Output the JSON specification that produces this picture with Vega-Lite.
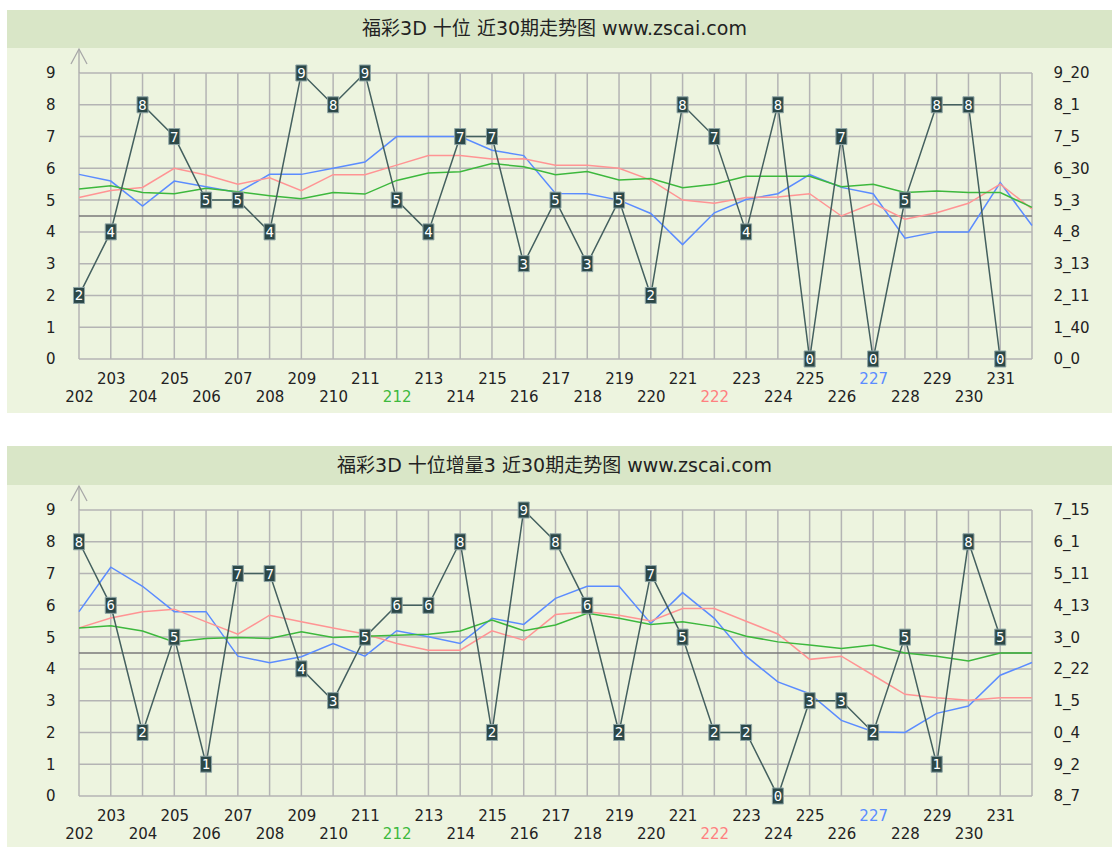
{
  "$schema": "https://vega.github.io/schema/vega-lite/v6.json",
  "background": "white",
  "padding": {"left": 7, "top": 10, "right": 0, "bottom": 0},
  "spacing": 0,
  "bounds": "flush",
  "datasets": {
    "d1": [
      {"p": 202, "n": 2, "b": 5.81, "r": 5.08, "g": 5.35},
      {"p": 203, "n": 4, "b": 5.6, "r": 5.3, "g": 5.45},
      {"p": 204, "n": 8, "b": 4.81, "r": 5.4, "g": 5.24},
      {"p": 205, "n": 7, "b": 5.6, "r": 6.0, "g": 5.2},
      {"p": 206, "n": 5, "b": 5.42, "r": 5.79, "g": 5.37},
      {"p": 207, "n": 5, "b": 5.24, "r": 5.5, "g": 5.26},
      {"p": 208, "n": 4, "b": 5.81, "r": 5.7, "g": 5.14},
      {"p": 209, "n": 9, "b": 5.81, "r": 5.3, "g": 5.04},
      {"p": 210, "n": 8, "b": 6.0, "r": 5.8, "g": 5.24},
      {"p": 211, "n": 9, "b": 6.2, "r": 5.8, "g": 5.19},
      {"p": 212, "n": 5, "b": 7.0, "r": 6.1, "g": 5.62},
      {"p": 213, "n": 4, "b": 7.0, "r": 6.4, "g": 5.85},
      {"p": 214, "n": 7, "b": 7.0, "r": 6.4, "g": 5.89},
      {"p": 215, "n": 7, "b": 6.57, "r": 6.29, "g": 6.15},
      {"p": 216, "n": 3, "b": 6.4, "r": 6.3, "g": 6.05},
      {"p": 217, "n": 5, "b": 5.21, "r": 6.1, "g": 5.8},
      {"p": 218, "n": 3, "b": 5.2, "r": 6.1, "g": 5.9},
      {"p": 219, "n": 5, "b": 5.0, "r": 6.0, "g": 5.63},
      {"p": 220, "n": 2, "b": 4.58, "r": 5.63, "g": 5.68},
      {"p": 221, "n": 8, "b": 3.6, "r": 5.0, "g": 5.39},
      {"p": 222, "n": 7, "b": 4.6, "r": 4.9, "g": 5.5},
      {"p": 223, "n": 4, "b": 5.02, "r": 5.08, "g": 5.75},
      {"p": 224, "n": 8, "b": 5.2, "r": 5.1, "g": 5.75},
      {"p": 225, "n": 0, "b": 5.8, "r": 5.2, "g": 5.75},
      {"p": 226, "n": 7, "b": 5.4, "r": 4.5, "g": 5.42},
      {"p": 227, "n": 0, "b": 5.2, "r": 4.9, "g": 5.5},
      {"p": 228, "n": 5, "b": 3.8, "r": 4.4, "g": 5.24},
      {"p": 229, "n": 8, "b": 4.0, "r": 4.6, "g": 5.29},
      {"p": 230, "n": 8, "b": 4.0, "r": 4.9, "g": 5.24},
      {"p": 231, "n": 0, "b": 5.55, "r": 5.5, "g": 5.24},
      {"p": 232, "n": null, "b": 4.2, "r": 4.72, "g": 4.77}
    ],
    "d2": [
      {"p": 202, "n": 8, "b": 5.8, "r": 5.29, "g": 5.29},
      {"p": 203, "n": 6, "b": 7.2, "r": 5.6, "g": 5.36},
      {"p": 204, "n": 2, "b": 6.6, "r": 5.8, "g": 5.19},
      {"p": 205, "n": 5, "b": 5.8, "r": 5.88, "g": 4.85},
      {"p": 206, "n": 1, "b": 5.8, "r": 5.48, "g": 4.96},
      {"p": 207, "n": 7, "b": 4.4, "r": 5.09, "g": 4.99},
      {"p": 208, "n": 7, "b": 4.19, "r": 5.69, "g": 4.96},
      {"p": 209, "n": 4, "b": 4.38, "r": 5.48, "g": 5.17},
      {"p": 210, "n": 3, "b": 4.8, "r": 5.29, "g": 4.99},
      {"p": 211, "n": 5, "b": 4.4, "r": 5.1, "g": 5.03},
      {"p": 212, "n": 6, "b": 5.2, "r": 4.8, "g": 5.06},
      {"p": 213, "n": 6, "b": 5.01, "r": 4.59, "g": 5.09},
      {"p": 214, "n": 8, "b": 4.8, "r": 4.59, "g": 5.19},
      {"p": 215, "n": 2, "b": 5.59, "r": 5.2, "g": 5.54},
      {"p": 216, "n": 9, "b": 5.4, "r": 4.9, "g": 5.2},
      {"p": 217, "n": 8, "b": 6.22, "r": 5.71, "g": 5.38},
      {"p": 218, "n": 6, "b": 6.6, "r": 5.8, "g": 5.75},
      {"p": 219, "n": 2, "b": 6.6, "r": 5.69, "g": 5.59},
      {"p": 220, "n": 7, "b": 5.43, "r": 5.51, "g": 5.4},
      {"p": 221, "n": 5, "b": 6.4, "r": 5.9, "g": 5.48},
      {"p": 222, "n": 2, "b": 5.59, "r": 5.9, "g": 5.33},
      {"p": 223, "n": 2, "b": 4.4, "r": 5.5, "g": 5.03},
      {"p": 224, "n": 0, "b": 3.59, "r": 5.1, "g": 4.85},
      {"p": 225, "n": 3, "b": 3.22, "r": 4.3, "g": 4.75},
      {"p": 226, "n": 3, "b": 2.38, "r": 4.4, "g": 4.64},
      {"p": 227, "n": 2, "b": 2.02, "r": 3.8, "g": 4.75},
      {"p": 228, "n": 5, "b": 2.0, "r": 3.2, "g": 4.5},
      {"p": 229, "n": 1, "b": 2.6, "r": 3.09, "g": 4.4},
      {"p": 230, "n": 8, "b": 2.83, "r": 3.01, "g": 4.25},
      {"p": 231, "n": 5, "b": 3.8, "r": 3.09, "g": 4.5},
      {"p": 232, "n": null, "b": 4.2, "r": 3.09, "g": 4.5}
    ],
    "lv": [{"v": 0}, {"v": 1}, {"v": 2}, {"v": 3}, {"v": 4}, {"v": 5}, {"v": 6}, {"v": 7}, {"v": 8}, {"v": 9}]
  },
  "vconcat": [
    {
      "width": 1105, "height": 38,
      "view": {"fill": "#D9E6C7", "stroke": null},
      "data": {"values": [{"t": "福彩3D 十位 近30期走势图 www.zscai.com"}]},
      "mark": {"type": "text", "font": "DejaVu Sans, Noto Sans CJK SC", "fontSize": 19, "color": "#222222", "dx": -5},
      "encoding": {"text": {"field": "t"}}
    },
    {
      "width": 1105, "height": 365,
      "view": {"fill": "#EDF4DF", "stroke": null},
      "resolve": {"axis": {"x": "independent", "y": "independent"}},
      "layer": [
        {
          "data": {"name": "d1"},
          "mark": {"type": "rule", "color": "#B4B4B4", "strokeWidth": 1.5},
          "encoding": {
            "x": {"field": "p", "type": "quantitative", "scale": {"domain": [199.7335, 234.5184], "nice": false, "zero": false},
              "axis": {"orient": "bottom", "values": [202, 204, 206, 208, 210, 212, 214, 216, 218, 220, 222, 224, 226, 228, 230], "format": "d", "offset": -17, "domain": false, "ticks": false, "tickSize": 0, "grid": false, "labelPadding": 0, "labelBaseline": "middle", "labelOverlap": false, "labelFlush": false, "labelBound": false, "title": null, "labelFont": "DejaVu Sans", "labelFontSize": 15,
                "labelColor": {"condition": [{"test": "datum.value === 212", "value": "#3DB93D"}, {"test": "datum.value === 222", "value": "#FF8080"}, {"test": "datum.value === 227", "value": "#5B8CFF"}], "value": "#222222"}}},
            "y": {"datum": 0, "type": "quantitative", "scale": {"domain": [-1.6993, 9.7867], "nice": false, "zero": false},
              "axis": {"orient": "left", "values": [0, 1, 2, 3, 4, 5, 6, 7, 8, 9], "offset": -48, "domain": false, "ticks": false, "tickSize": 0, "grid": false, "labelPadding": 0, "labelAlign": "right", "labelBaseline": "middle", "labelFont": "DejaVu Sans", "labelFontSize": 15, "labelColor": "#222222", "title": null}},
            "y2": {"datum": 9}
          }
        },
        {
          "data": {"name": "lv"},
          "mark": {"type": "rule", "color": "#B4B4B4", "strokeWidth": 1.5},
          "encoding": {
            "y": {"field": "v", "type": "quantitative", "scale": {"domain": [-1.6993, 9.7867], "nice": false, "zero": false},
              "axis": {"orient": "right", "values": [0, 1, 2, 3, 4, 5, 6, 7, 8, 9], "offset": -59, "domain": false, "ticks": false, "tickSize": 0, "grid": false, "labelPadding": 0, "labelAlign": "left", "labelBaseline": "middle", "labelFont": "DejaVu Sans", "labelFontSize": 15, "labelColor": "#222222", "title": null,
                "labelExpr": "['0_0','1_40','2_11','3_13','4_8','5_3','6_30','7_5','8_1','9_20'][datum.value]"}},
            "x": {"datum": 202, "type": "quantitative", "scale": {"domain": [199.7335, 234.5184], "nice": false, "zero": false},
              "axis": {"orient": "bottom", "values": [203, 205, 207, 209, 211, 213, 215, 217, 219, 221, 223, 225, 227, 229, 231], "format": "d", "offset": -35, "domain": false, "ticks": false, "tickSize": 0, "grid": false, "labelPadding": 0, "labelBaseline": "middle", "labelOverlap": false, "labelFlush": false, "labelBound": false, "title": null, "labelFont": "DejaVu Sans", "labelFontSize": 15,
                "labelColor": {"condition": [{"test": "datum.value === 212", "value": "#3DB93D"}, {"test": "datum.value === 222", "value": "#FF8080"}, {"test": "datum.value === 227", "value": "#5B8CFF"}], "value": "#222222"}}},
            "x2": {"datum": 232}
          }
        },
        {
          "data": {"values": [{}]},
          "mark": {"type": "rule", "color": "#7A7A7A", "strokeWidth": 1.3},
          "encoding": {
            "y": {"datum": 4.5, "type": "quantitative", "axis": null},
            "x": {"datum": 202, "type": "quantitative", "axis": null},
            "x2": {"datum": 232}
          }
        },
        {
          "data": {"values": [{}]},
          "mark": {"type": "rule", "color": "#A8A8A8", "strokeWidth": 1.3},
          "encoding": {
            "y": {"datum": 9, "type": "quantitative", "axis": null},
            "y2": {"datum": 9.755},
            "x": {"datum": 202, "type": "quantitative", "axis": null}
          }
        },
        {
          "data": {"values": [{}]},
          "mark": {"type": "point", "shape": "M-1.07,1L0,-1L1.07,1", "size": 225, "filled": false, "stroke": "#A8A8A8", "strokeWidth": 1.3, "opacity": 1},
          "encoding": {
            "y": {"datum": 9.519, "type": "quantitative", "axis": null},
            "x": {"datum": 202, "type": "quantitative", "axis": null}
          }
        },
        {
          "data": {"name": "d1"},
          "mark": {"type": "line", "color": "#5B8CFF", "strokeWidth": 1.5},
          "encoding": {"x": {"field": "p", "type": "quantitative", "axis": null}, "y": {"field": "b", "type": "quantitative", "axis": null}}
        },
        {
          "data": {"name": "d1"},
          "mark": {"type": "line", "color": "#FF9494", "strokeWidth": 1.5},
          "encoding": {"x": {"field": "p", "type": "quantitative", "axis": null}, "y": {"field": "r", "type": "quantitative", "axis": null}}
        },
        {
          "data": {"name": "d1"},
          "mark": {"type": "line", "color": "#3DB83D", "strokeWidth": 1.5},
          "encoding": {"x": {"field": "p", "type": "quantitative", "axis": null}, "y": {"field": "g", "type": "quantitative", "axis": null}}
        },
        {
          "data": {"name": "d1"},
          "mark": {"type": "line", "color": "#44605F", "strokeWidth": 1.5},
          "encoding": {"x": {"field": "p", "type": "quantitative", "axis": null}, "y": {"field": "n", "type": "quantitative", "axis": null}}
        },
        {
          "data": {"name": "d1"},
          "mark": {"type": "point", "shape": "M-0.69,-1H0.69V1H-0.69Z", "size": 256, "filled": true, "fill": "#2C4848", "stroke": "#8FA6A6", "strokeWidth": 1, "opacity": 1},
          "encoding": {"x": {"field": "p", "type": "quantitative", "axis": null}, "y": {"field": "n", "type": "quantitative", "axis": null}}
        },
        {
          "data": {"name": "d1"},
          "mark": {"type": "text", "color": "white", "font": "DejaVu Sans Mono", "fontSize": 14, "baseline": "middle", "align": "center", "dy": 1},
          "encoding": {"x": {"field": "p", "type": "quantitative", "axis": null}, "y": {"field": "n", "type": "quantitative", "axis": null}, "text": {"field": "n", "type": "quantitative", "format": "d"}}
        }
      ]
    },
    {
      "width": 1105, "height": 33,
      "data": {"values": []},
      "mark": "point",
      "view": {"stroke": null}
    },
    {
      "width": 1105, "height": 39,
      "view": {"fill": "#D9E6C7", "stroke": null},
      "data": {"values": [{"t": "福彩3D 十位增量3 近30期走势图 www.zscai.com"}]},
      "mark": {"type": "text", "font": "DejaVu Sans, Noto Sans CJK SC", "fontSize": 19, "color": "#222222", "dx": -5},
      "encoding": {"text": {"field": "t"}}
    },
    {
      "width": 1105, "height": 362,
      "view": {"fill": "#EDF4DF", "stroke": null},
      "resolve": {"axis": {"x": "independent", "y": "independent"}},
      "layer": [
        {
          "data": {"name": "d2"},
          "mark": {"type": "rule", "color": "#B4B4B4", "strokeWidth": 1.5},
          "encoding": {
            "x": {"field": "p", "type": "quantitative", "scale": {"domain": [199.7335, 234.5184], "nice": false, "zero": false},
              "axis": {"orient": "bottom", "values": [202, 204, 206, 208, 210, 212, 214, 216, 218, 220, 222, 224, 226, 228, 230], "format": "d", "offset": -14, "domain": false, "ticks": false, "tickSize": 0, "grid": false, "labelPadding": 0, "labelBaseline": "middle", "labelOverlap": false, "labelFlush": false, "labelBound": false, "title": null, "labelFont": "DejaVu Sans", "labelFontSize": 15,
                "labelColor": {"condition": [{"test": "datum.value === 212", "value": "#3DB93D"}, {"test": "datum.value === 222", "value": "#FF8080"}, {"test": "datum.value === 227", "value": "#5B8CFF"}], "value": "#222222"}}},
            "y": {"datum": 0, "type": "quantitative", "scale": {"domain": [-1.6049, 9.7867], "nice": false, "zero": false},
              "axis": {"orient": "left", "values": [0, 1, 2, 3, 4, 5, 6, 7, 8, 9], "offset": -48, "domain": false, "ticks": false, "tickSize": 0, "grid": false, "labelPadding": 0, "labelAlign": "right", "labelBaseline": "middle", "labelFont": "DejaVu Sans", "labelFontSize": 15, "labelColor": "#222222", "title": null}},
            "y2": {"datum": 9}
          }
        },
        {
          "data": {"name": "lv"},
          "mark": {"type": "rule", "color": "#B4B4B4", "strokeWidth": 1.5},
          "encoding": {
            "y": {"field": "v", "type": "quantitative", "scale": {"domain": [-1.6049, 9.7867], "nice": false, "zero": false},
              "axis": {"orient": "right", "values": [0, 1, 2, 3, 4, 5, 6, 7, 8, 9], "offset": -59, "domain": false, "ticks": false, "tickSize": 0, "grid": false, "labelPadding": 0, "labelAlign": "left", "labelBaseline": "middle", "labelFont": "DejaVu Sans", "labelFontSize": 15, "labelColor": "#222222", "title": null,
                "labelExpr": "['8_7','9_2','0_4','1_5','2_22','3_0','4_13','5_11','6_1','7_15'][datum.value]"}},
            "x": {"datum": 202, "type": "quantitative", "scale": {"domain": [199.7335, 234.5184], "nice": false, "zero": false},
              "axis": {"orient": "bottom", "values": [203, 205, 207, 209, 211, 213, 215, 217, 219, 221, 223, 225, 227, 229, 231], "format": "d", "offset": -32, "domain": false, "ticks": false, "tickSize": 0, "grid": false, "labelPadding": 0, "labelBaseline": "middle", "labelOverlap": false, "labelFlush": false, "labelBound": false, "title": null, "labelFont": "DejaVu Sans", "labelFontSize": 15,
                "labelColor": {"condition": [{"test": "datum.value === 212", "value": "#3DB93D"}, {"test": "datum.value === 222", "value": "#FF8080"}, {"test": "datum.value === 227", "value": "#5B8CFF"}], "value": "#222222"}}},
            "x2": {"datum": 232}
          }
        },
        {
          "data": {"values": [{}]},
          "mark": {"type": "rule", "color": "#7A7A7A", "strokeWidth": 1.3},
          "encoding": {
            "y": {"datum": 4.5, "type": "quantitative", "axis": null},
            "x": {"datum": 202, "type": "quantitative", "axis": null},
            "x2": {"datum": 232}
          }
        },
        {
          "data": {"values": [{}]},
          "mark": {"type": "rule", "color": "#A8A8A8", "strokeWidth": 1.3},
          "encoding": {
            "y": {"datum": 9, "type": "quantitative", "axis": null},
            "y2": {"datum": 9.755},
            "x": {"datum": 202, "type": "quantitative", "axis": null}
          }
        },
        {
          "data": {"values": [{}]},
          "mark": {"type": "point", "shape": "M-1.07,1L0,-1L1.07,1", "size": 225, "filled": false, "stroke": "#A8A8A8", "strokeWidth": 1.3, "opacity": 1},
          "encoding": {
            "y": {"datum": 9.519, "type": "quantitative", "axis": null},
            "x": {"datum": 202, "type": "quantitative", "axis": null}
          }
        },
        {
          "data": {"name": "d2"},
          "mark": {"type": "line", "color": "#5B8CFF", "strokeWidth": 1.5},
          "encoding": {"x": {"field": "p", "type": "quantitative", "axis": null}, "y": {"field": "b", "type": "quantitative", "axis": null}}
        },
        {
          "data": {"name": "d2"},
          "mark": {"type": "line", "color": "#FF9494", "strokeWidth": 1.5},
          "encoding": {"x": {"field": "p", "type": "quantitative", "axis": null}, "y": {"field": "r", "type": "quantitative", "axis": null}}
        },
        {
          "data": {"name": "d2"},
          "mark": {"type": "line", "color": "#3DB83D", "strokeWidth": 1.5},
          "encoding": {"x": {"field": "p", "type": "quantitative", "axis": null}, "y": {"field": "g", "type": "quantitative", "axis": null}}
        },
        {
          "data": {"name": "d2"},
          "mark": {"type": "line", "color": "#44605F", "strokeWidth": 1.5},
          "encoding": {"x": {"field": "p", "type": "quantitative", "axis": null}, "y": {"field": "n", "type": "quantitative", "axis": null}}
        },
        {
          "data": {"name": "d2"},
          "mark": {"type": "point", "shape": "M-0.69,-1H0.69V1H-0.69Z", "size": 256, "filled": true, "fill": "#2C4848", "stroke": "#8FA6A6", "strokeWidth": 1, "opacity": 1},
          "encoding": {"x": {"field": "p", "type": "quantitative", "axis": null}, "y": {"field": "n", "type": "quantitative", "axis": null}}
        },
        {
          "data": {"name": "d2"},
          "mark": {"type": "text", "color": "white", "font": "DejaVu Sans Mono", "fontSize": 14, "baseline": "middle", "align": "center", "dy": 1},
          "encoding": {"x": {"field": "p", "type": "quantitative", "axis": null}, "y": {"field": "n", "type": "quantitative", "axis": null}, "text": {"field": "n", "type": "quantitative", "format": "d"}}
        }
      ]
    }
  ]
}
